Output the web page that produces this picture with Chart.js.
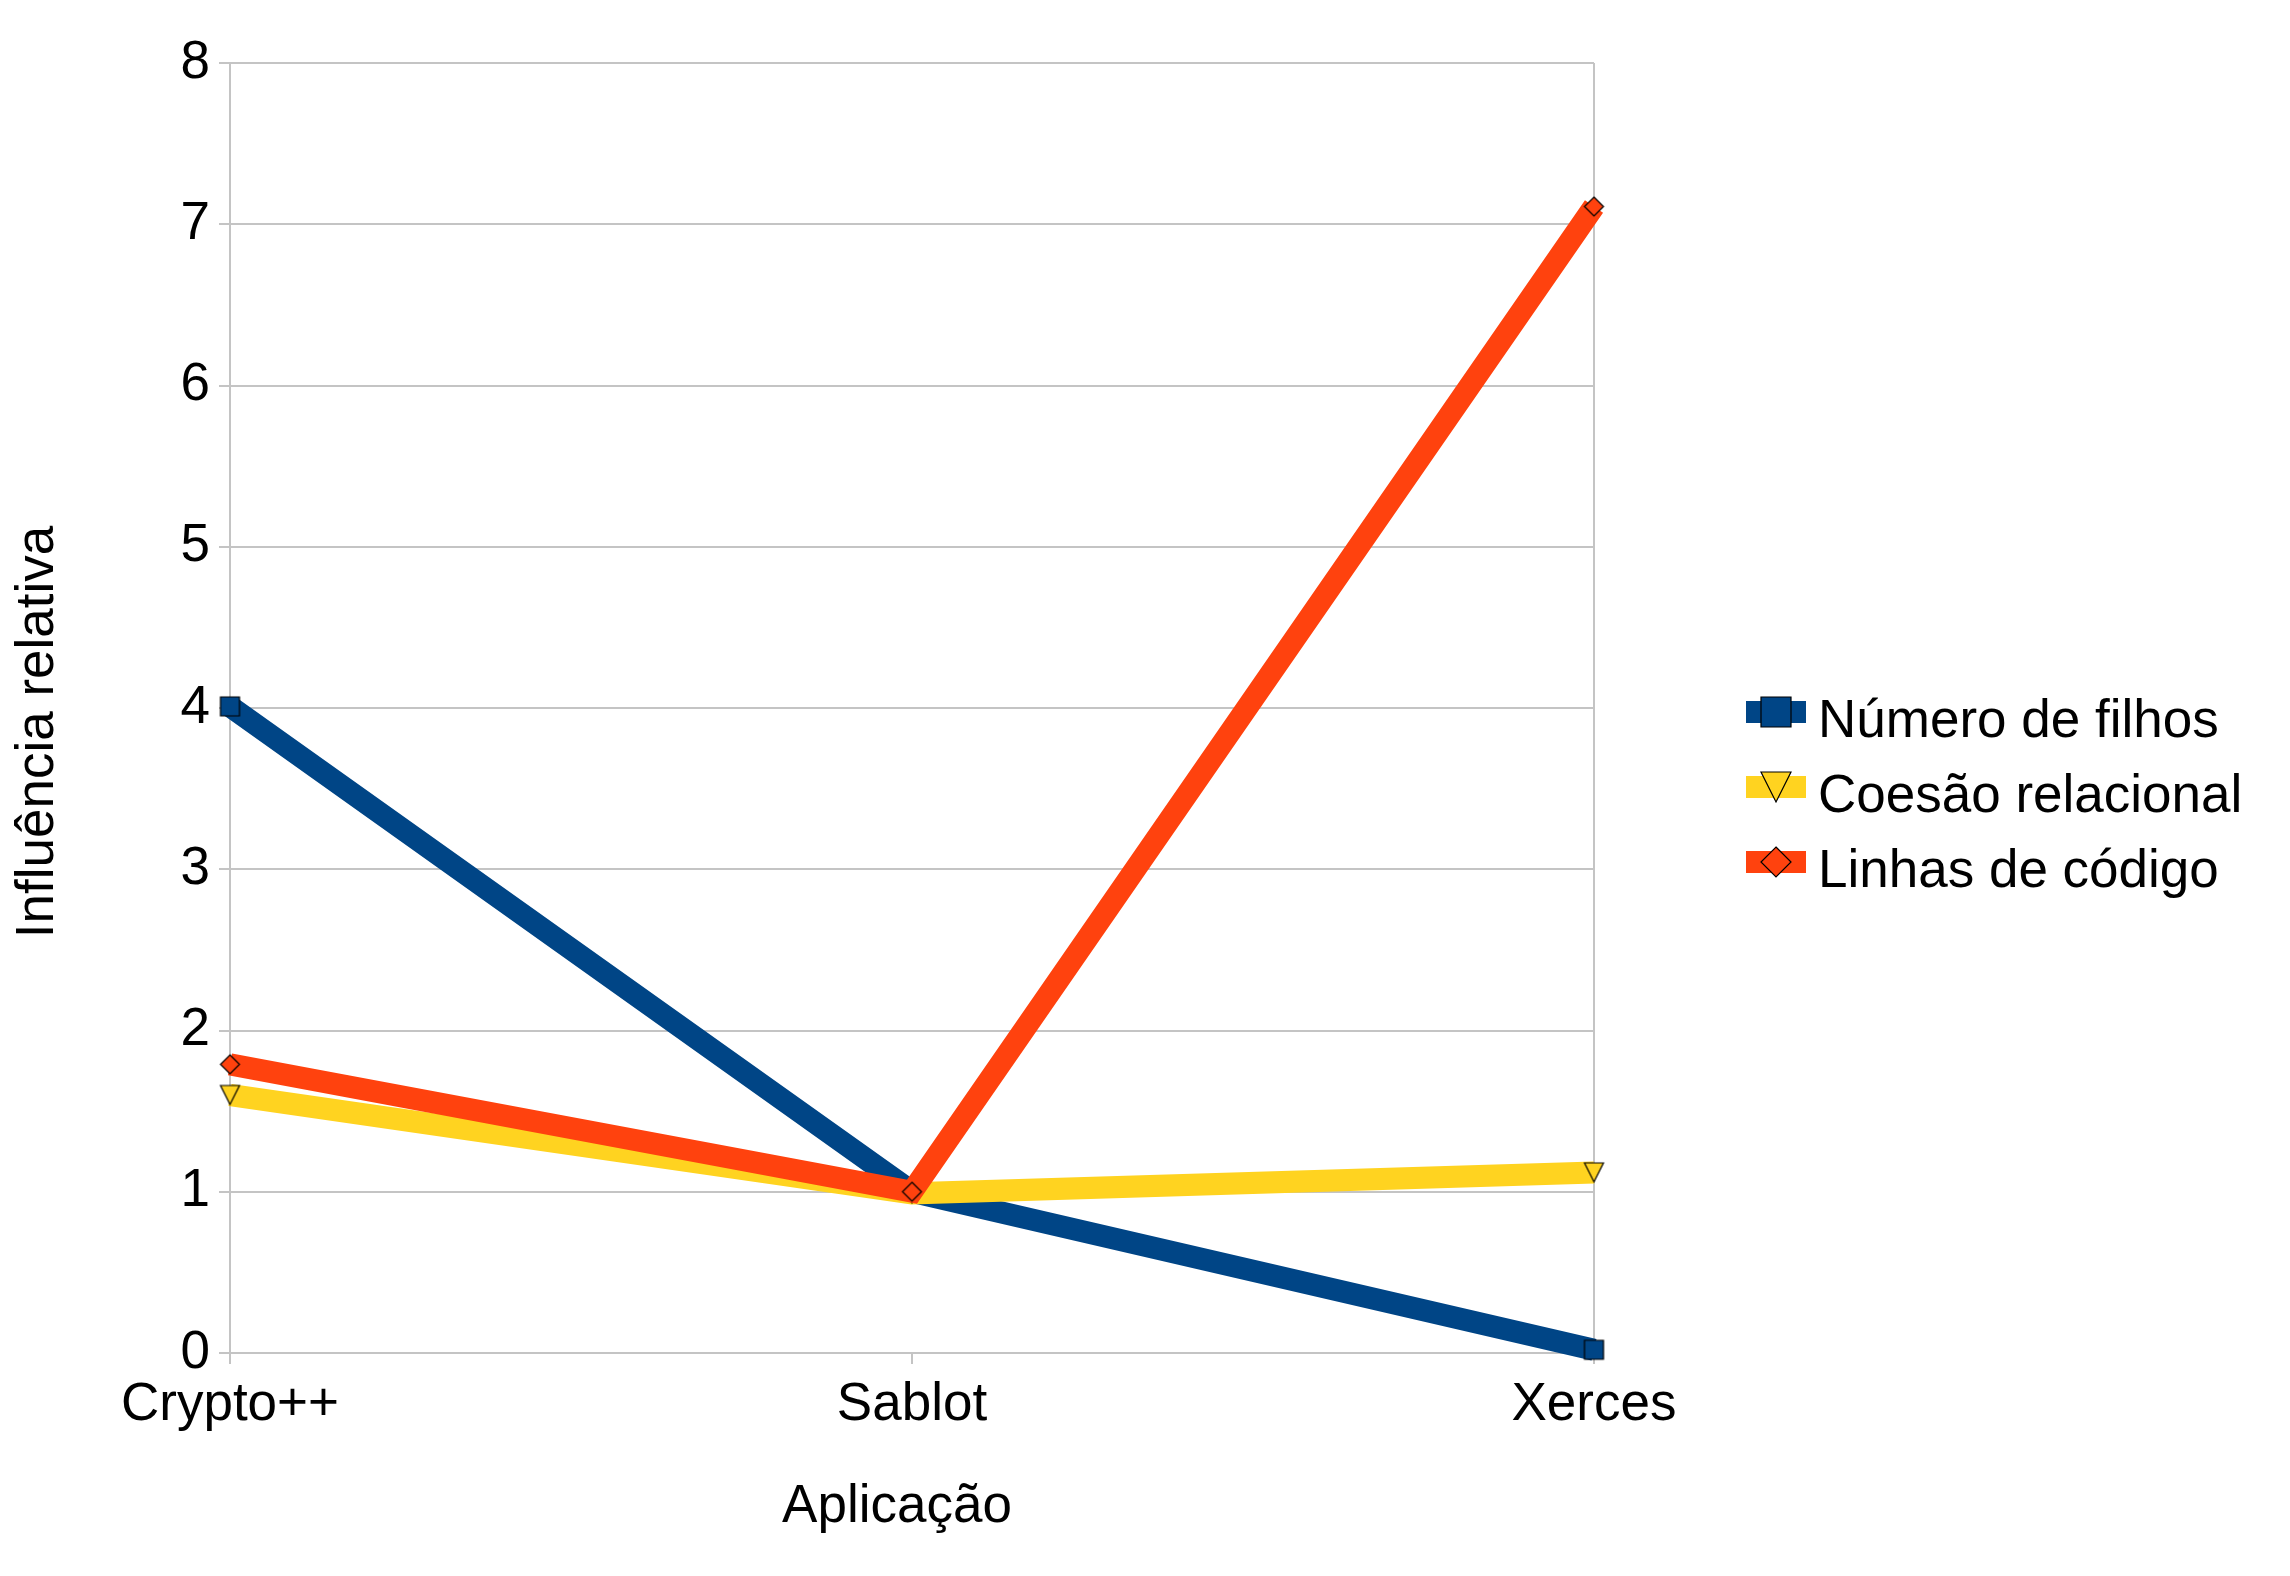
<!DOCTYPE html>
<html lang="pt">
<head>
<meta charset="utf-8">
<title>Influência relativa por aplicação</title>
<script src="https://cdn.jsdelivr.net/npm/chart.js@4.4.1/dist/chart.umd.min.js"></script>
<style>
  html, body { margin: 0; padding: 0; background: #fff; }
  canvas { display: block; }
</style>
</head>
<body>
<canvas id="grafico" width="2290" height="1576"></canvas>
<script>
const categorias = ["Crypto++", "Sablot", "Xerces"];
const numeroFilhos = [4.01, 1.0, 0.02];
const coesaoRelacional = [1.6, 0.99, 1.12];
const linhasCodigo = [1.79, 1.0, 7.11];
const nomesSeries = ["Número de filhos", "Coesão relacional", "Linhas de código"];
const coresSeries = ["#004586", "#ffd320", "#ff420e"];
const formasSeries = ["quadrado", "triangulo", "losango"];
const limitesY = [0, 8];

const FONTE = "'Liberation Sans', Arial, sans-serif";
const CINZA = "#c4c4c4";

function marcador(forma, tamanho, cor) {
  const pad = 2;
  const c = document.createElement("canvas");
  c.width = c.height = tamanho + pad * 2;
  const g = c.getContext("2d");
  const s = tamanho;
  g.beginPath();
  if (forma === "quadrado") {
    g.rect(pad, pad, s, s);
  } else if (forma === "triangulo") {
    g.moveTo(pad, pad);
    g.lineTo(pad + s, pad);
    g.lineTo(pad + s / 2, pad + s);
    g.closePath();
  } else {
    g.moveTo(pad + s / 2, pad);
    g.lineTo(pad + s, pad + s / 2);
    g.lineTo(pad + s / 2, pad + s);
    g.lineTo(pad, pad + s / 2);
    g.closePath();
  }
  g.fillStyle = cor;
  g.fill();
  g.strokeStyle = "#000";
  g.lineWidth = 1.2;
  g.stroke();
  return c;
}

const valoresSeries = [numeroFilhos, coesaoRelacional, linhasCodigo];

const datasets = valoresSeries.map((valores, i) => ({
  label: nomesSeries[i],
  data: valores,
  borderColor: coresSeries[i],
  backgroundColor: coresSeries[i],
  borderWidth: 22,
  borderCapStyle: "butt",
  borderJoinStyle: "miter",
  tension: 0,
  clip: false,
  pointStyle: marcador(formasSeries[i], 19, coresSeries[i]),
  pointRadius: 10,
  order: 3 - i
}));

// titulos dos eixos e legenda desenhados à mão, para ficarem onde estão no original
const extras = {
  id: "extras",
  afterDraw(chart) {
    const ctx = chart.ctx;
    const area = chart.chartArea;
    ctx.save();
    ctx.fillStyle = "#000";
    ctx.font = `53px ${FONTE}`;
    ctx.textAlign = "center";
    ctx.textBaseline = "middle";

    ctx.save();
    ctx.translate(38, 732);
    ctx.rotate(-Math.PI / 2);
    ctx.fillText("Influência relativa", 0, 0);
    ctx.restore();

    ctx.textBaseline = "alphabetic";
    ctx.fillText("Aplicação", 897, 1522);

    const x0 = area.right + 152;
    chart.data.datasets.forEach((ds, i) => {
      const yc = 712 + i * 75;
      ctx.fillStyle = ds.borderColor;
      ctx.fillRect(x0, yc - 11, 60, 22);
      const img = marcador(formasSeries[i], 30, ds.borderColor);
      ctx.drawImage(img, x0 + 30 - img.width / 2, yc - img.height / 2);
      ctx.fillStyle = "#000";
      ctx.textAlign = "left";
      ctx.fillText(ds.label, x0 + 72, yc + 25);
    });
    ctx.restore();
  }
};

new Chart(document.getElementById("grafico"), {
  type: "line",
  data: { labels: categorias, datasets },
  options: {
    responsive: false,
    animation: false,
    devicePixelRatio: 1,
    layout: { padding: { left: 0, top: 63, right: 696, bottom: 0 } },
    plugins: {
      legend: { display: false },
      tooltip: { enabled: false }
    },
    scales: {
      x: {
        offset: false,
        afterFit(scale) { scale.height = 223; },
        grid: {
          color: ctx => ctx.index === categorias.length - 1 ? CINZA : "rgba(0,0,0,0)",
          tickColor: CINZA,
          lineWidth: 2,
          tickLength: 11
        },
        border: { display: true, color: CINZA, width: 2 },
        ticks: {
          color: "#000",
          font: { family: FONTE, size: 53 },
          padding: 10,
          maxRotation: 0,
          autoSkip: false
        }
      },
      y: {
        min: limitesY[0],
        max: limitesY[1],
        afterFit(scale) { scale.width = 230; },
        grid: { color: CINZA, lineWidth: 2, tickLength: 11 },
        border: { display: true, color: CINZA, width: 2 },
        ticks: {
          stepSize: 1,
          color: "#000",
          font: { family: FONTE, size: 53 },
          padding: 9
        }
      }
    }
  },
  plugins: [extras]
});
</script>
</body>
</html>
